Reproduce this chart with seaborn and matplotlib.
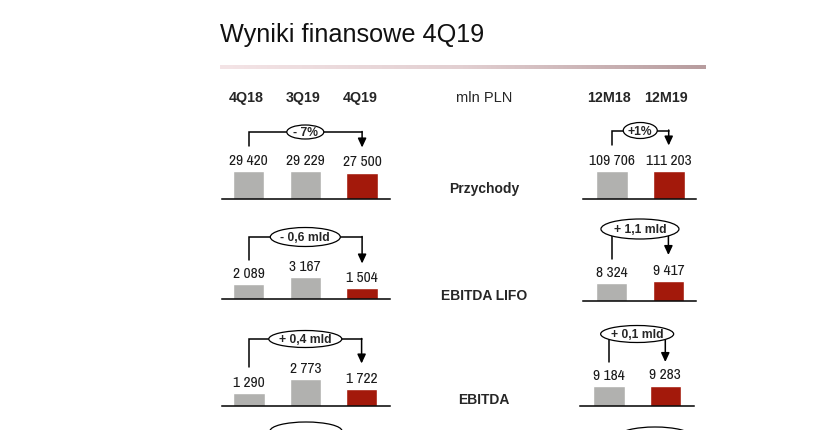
import numpy as np
import pandas as pd
import matplotlib
matplotlib.use("Agg")
import matplotlib.pyplot as plt
from matplotlib.patches import Ellipse
from matplotlib.colors import LinearSegmentedColormap
from matplotlib import font_manager as fm
from matplotlib.textpath import TextPath
import seaborn as sns
import warnings
warnings.filterwarnings("ignore")

sns.set_theme(style="white")
plt.rcParams['font.family'] = ['Liberation Sans', 'DejaVu Sans']

# ---------------- data ----------------
title = "Wyniki finansowe 4Q19"
unit_label = "mln PLN"
quarters = ["4Q18", "3Q19", "4Q19"]
years = ["12M18", "12M19"]
metrics = ["Przychody", "EBITDA LIFO", "EBITDA"]

przychody_q = [29420, 29229, 27500]
przychody_y = [109706, 111203]
ebitda_lifo_q = [2089, 3167, 1504]
ebitda_lifo_y = [8324, 9417]
ebitda_q = [1290, 2773, 1722]
ebitda_y = [9184, 9283]

change_q = ["- 7%", "- 0,6 mld", "+ 0,4 mld"]
change_y = ["+1%", "+ 1,1 mld", "+ 0,1 mld"]

values_q = [przychody_q, ebitda_lifo_q, ebitda_q]
values_y = [przychody_y, ebitda_lifo_y, ebitda_y]

GRAY = "#b1b1af"
RED = "#a3190b"
pal_q = {quarters[0]: GRAY, quarters[1]: GRAY, quarters[2]: RED}
pal_y = {years[0]: GRAY, years[1]: RED}

# ---------------- narrow font for the value labels ----------------
def pick_narrow():
    fonts = fm.fontManager.ttflist
    prefs = [
        lambda f: f.name == "Liberation Sans Narrow" and f.weight in (400, "normal") and f.style == "normal",
        lambda f: f.name == "Arial Narrow" and f.style == "normal",
        lambda f: "Narrow" in f.name and f.style == "normal" and f.weight in (400, "normal"),
        lambda f: f.name == "Roboto Condensed" and f.style == "normal",
        lambda f: "Condensed" in f.fname and "Semi" not in f.fname and "Extra" not in f.fname
                  and "Bold" not in f.fname and "Oblique" not in f.fname and "Italic" not in f.fname,
    ]
    for p in prefs:
        for f in fonts:
            try:
                if p(f):
                    return fm.FontProperties(fname=f.fname)
            except Exception:
                pass
    return fm.FontProperties(family="Liberation Sans")

val_fp = pick_narrow()
PX = 100 / 72
tp_w = TextPath((0, 0), "29 420", size=10, prop=val_fp).get_extents().width * PX
tp_h = TextPath((0, 0), "0", size=10, prop=val_fp).get_extents().height * PX
size_w = 10 * 38.0 / tp_w      # size matching the original width
size_h = 10 * 11.0 / tp_h      # size matching the original digit height
VAL_SIZE = float(np.clip(min(size_h, size_w * 1.1), 8.3, 11.2))
val_fp.set_size(VAL_SIZE)

# ---------------- layout (pixels) ----------------
W, H = 818, 431
fig = plt.figure(figsize=(W / 100, H / 100), dpi=100)
fig.patch.set_facecolor("white")

def fmt(v):
    return f"{v:,}".replace(",", " ")

rows_q = [dict(base=199.5, hmax=27.5, c0=248.5, s=56.8, L=221.5, R=390),
          dict(base=299.5, hmax=21.6, c0=248.5, s=56.8, L=221.5, R=390),
          dict(base=406.7, hmax=26.7, c0=249.0, s=56.3, L=221.5, R=389.5)]
rows_y = [dict(base=199.5, hmax=27.5, c0=611.8, s=56.9, L=583, R=696),
          dict(base=302.3, hmax=20.3, c0=611.5, s=56.9, L=583, R=696),
          dict(base=406.7, hmax=20.0, c0=609.0, s=56.3, L=580, R=694)]

br_q = [dict(yh=133, lb=147, tip=148.5, ew=37, eh=14),
        dict(yh=238, lb=261, tip=264.5, ew=70, eh=19),
        dict(yh=340, lb=368, tip=364.5, ew=73, eh=17)]
br_y = [dict(yh=131.5, lb=146, tip=146.5, ew=34, eh=16),
        dict(yh=230, lb=260, tip=256, ew=78, eh=20),
        dict(yh=335, lb=363, tip=363, ew=73, eh=17)]
label_y = [189, 296, 400]

AX_H = 60.0

def make_panel(cats, vals, pal, geo):
    left = geo["L"] / W
    bottom = 1 - geo["base"] / H
    ax = fig.add_axes([left, bottom, (geo["R"] - geo["L"]) / W, AX_H / H])
    df = pd.DataFrame({"okres": cats, "wartosc": vals})
    sns.barplot(data=df, x="okres", y="wartosc", hue="okres", palette=pal,
                width=31.6 / geo["s"], legend=False, ax=ax, saturation=1)
    ax.set_xlim((geo["L"] - geo["c0"]) / geo["s"], (geo["R"] - geo["c0"]) / geo["s"])
    ax.set_ylim(0, max(vals) * AX_H / geo["hmax"])
    ax.set_facecolor("none")
    ax.set_xticks([]); ax.set_yticks([])
    ax.set_xlabel(""); ax.set_ylabel("")
    for sp in ["top", "left", "right"]:
        ax.spines[sp].set_visible(False)
    ax.spines["bottom"].set_color("black")
    ax.spines["bottom"].set_linewidth(1.1)
    for i, v in enumerate(vals):
        ax.annotate(fmt(v), (i, v), xytext=(0, 8.2), textcoords="offset points",
                    ha="center", va="center", fontproperties=val_fp,
                    color="#1a1a1a", clip_on=False)
    return ax

axes_q = [make_panel(quarters, values_q[r], pal_q, rows_q[r]) for r in range(3)]
axes_y = [make_panel(years, values_y[r], pal_y, rows_y[r]) for r in range(3)]

ov = fig.add_axes([0, 0, 1, 1], zorder=10)
ov.set_xlim(0, W); ov.set_ylim(H, 0)
ov.set_axis_off()
ov.patch.set_alpha(0)

ov.text(220, 42, title, fontsize=18.2, ha="left", va="baseline", color="#111111")
cmap = LinearSegmentedColormap.from_list("rule", ["#f4e4e6", "#e2cfd1", "#b79c9e"])
grad = np.linspace(0, 1, 256).reshape(1, -1)
ov.imshow(grad, cmap=cmap, extent=[220, 706, 69.5, 66], aspect="auto", zorder=1)

def bar_x(ax, i):
    return ax.transData.transform((i, 0))[0]

for i, q in enumerate(quarters):
    ov.text(bar_x(axes_q[0], i) - 2, 102, q, fontsize=10.3, weight="bold",
            ha="center", va="baseline")
for i, y in enumerate(years):
    ov.text(bar_x(axes_y[0], i) - 2.5, 102, y, fontsize=10.3, weight="bold",
            ha="center", va="baseline")
ov.text(484, 102, unit_label, fontsize=10.5, ha="center", va="baseline")

for r, m in enumerate(metrics):
    ov.text(484, label_y[r], m, fontsize=10, weight="bold", ha="center", va="center")

def bracket(x1, x2, xc, b, text):
    ov.plot([x1, x1, x2], [b["lb"], b["yh"], b["yh"]], color="black", lw=1.1,
            solid_joinstyle="miter", zorder=3)
    ov.annotate("", xy=(x2, b["tip"]), xytext=(x2, b["yh"] - 0.5),
                arrowprops=dict(arrowstyle="-|>,head_length=0.6,head_width=0.28",
                                lw=1.1, color="black", shrinkA=0, shrinkB=0,
                                mutation_scale=9), zorder=3)
    ov.add_patch(Ellipse((xc, b["yh"]), b["ew"], b["eh"], facecolor="white",
                         edgecolor="black", lw=0.9, zorder=4))
    ov.text(xc, b["yh"] + 0.5, text, fontsize=8.7, weight="bold", ha="center",
            va="center", zorder=5)

for r in range(3):
    axq = axes_q[r]
    bracket(bar_x(axq, 0), bar_x(axq, 2), bar_x(axq, 1), br_q[r], change_q[r])
    axy = axes_y[r]
    x1, x2 = bar_x(axy, 0), bar_x(axy, 1)
    bracket(x1, x2, (x1 + x2) / 2, br_y[r], change_y[r])

ov.add_patch(Ellipse((306, 432), 72, 18, facecolor="white", edgecolor="black",
                     lw=0.9, zorder=4))
ov.add_patch(Ellipse((655, 437), 72, 18, facecolor="white", edgecolor="black",
                     lw=0.9, zorder=4))

fig.savefig("out.png", dpi=100, facecolor="white")
